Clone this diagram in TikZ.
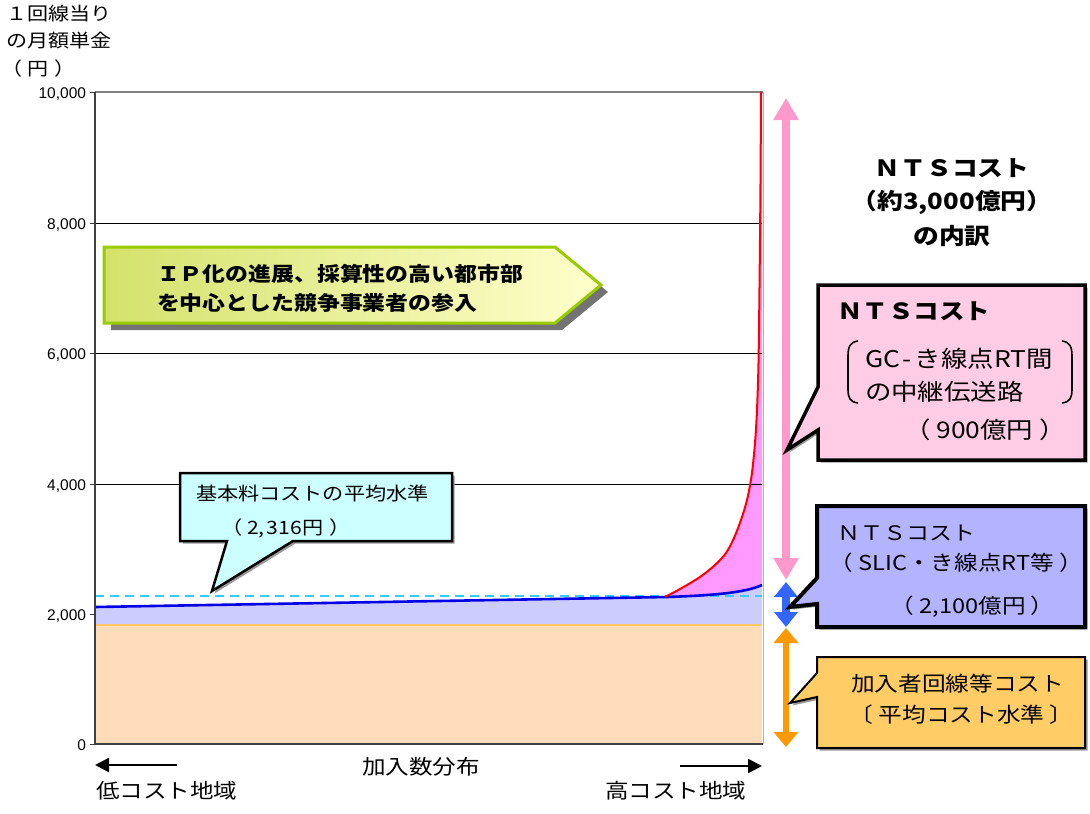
\documentclass[tikz,border=0pt]{standalone}
\usepackage{fontspec}
\setmainfont{Liberation Sans}
\newfontfamily\jp[FakeStretch=1.15]{Noto Sans CJK JP}
\usetikzlibrary{arrows.meta}
\definecolor{peach}{RGB}{255,221,187}
\definecolor{lav}{RGB}{204,204,255}
\definecolor{pinkfill}{RGB}{255,153,255}
\definecolor{redline}{RGB}{255,0,0}
\definecolor{blueline}{RGB}{0,0,230}
\definecolor{cyanline}{RGB}{51,204,255}
\definecolor{orangeline}{RGB}{255,200,100}
\definecolor{pinkarrow}{RGB}{255,153,204}
\definecolor{bluearrow}{RGB}{51,102,255}
\definecolor{orangearrow}{RGB}{255,153,0}
\definecolor{pinkbox}{RGB}{255,204,230}
\definecolor{bluebox}{RGB}{179,179,255}
\definecolor{orangebox}{RGB}{255,204,102}
\definecolor{cyanbox}{RGB}{204,255,255}
\definecolor{ygleft}{RGB}{212,226,108}
\definecolor{ygright}{RGB}{255,255,204}
\definecolor{ygborder}{RGB}{153,204,0}
\definecolor{axisgray}{RGB}{64,64,64}
\newcommand\fs[1]{\fontsize{#1}{#1}\selectfont}
% full-width brackets with the ink centred in their cell
\newcommand\lpar{\kern-0.25em（\kern0.25em}
\newcommand\rpar{\kern0.25em）\kern-0.25em}
\newcommand\lbrk{\kern-0.25em〔\kern0.25em}
\newcommand\rbrk{\kern0.25em〕\kern-0.25em}
\begin{document}
\begin{tikzpicture}[x=1pt,y=-1pt,
  txt/.style={inner sep=0pt, outer sep=0pt},
  tick/.style={txt, anchor=base east, font=\fs{15.5}},
  jtxt/.style={txt, anchor=west, font=\jp\fs{#1}},
  jbold/.style={txt, font=\jp\fs{#1}\bfseries},
  gridline/.style={black, line width=0.9pt},
  shadowfill/.style={fill=black!40},
  hxarrow/.style={line width=2.5pt, -{Triangle[width=14pt,length=14pt]}}
]
\useasboundingbox (0,0) rectangle (1090,814);
\fill[white] (0,0) rectangle (1090,814);

% ---------- plot fills ----------
\fill[peach] (95,625) rectangle (762,744);
\fill[lav] (95,625) -- (95,607) -- (667,597) .. controls (710,595.5) and (745,593) .. (762,585) -- (762,625) -- cycle;
\fill[pinkfill] plot[smooth] coordinates {(665,597) (680,589) (700,577) (715,565) (726,553) (734,538) (741,520) (747,500) (751.7,475) (755,443) (757,410) (758.5,363) (759.5,287) (760.5,183) (761,92)} -- (762,92) -- (762,585) .. controls (745,593) and (710,595.5) .. (667,597) -- cycle;

% ---------- grid and frame ----------
\foreach \yy in {223,353,484} \draw[gridline] (95,\yy) -- (762,\yy);
\draw[gray, line width=1.5pt] (95,92) -- (763,92);
\draw[black!30, line width=1pt] (763,92) -- (763,744);
\draw[cyanline, line width=2pt, dash pattern=on 9pt off 6pt] (95,596) -- (762,596);
\draw[orangeline, line width=2pt] (95,625) -- (762,625);
\draw[blueline, line width=2.6pt] (95,607) -- (667,597) .. controls (710,595.5) and (745,593) .. (762,585);
\draw[redline, line width=2pt] plot[smooth] coordinates {(665,597) (680,589) (700,577) (715,565) (726,553) (734,538) (741,520) (747,500) (751.7,475) (755,443) (757,410) (758.5,363) (759.5,287) (760.5,183) (761,92)};
\draw[axisgray, line width=2pt] (95,92) -- (95,744) -- (763,744);
\foreach \yy in {92,223,353,484,614,744} \draw[axisgray, line width=1pt] (90,\yy) -- (95,\yy);

% ---------- tick labels ----------
\node[tick] (t10000) at (86,98) {10,000};
\node[tick] (t8000) at (86,229) {8,000};
\node[tick] (t6000) at (86,359) {6,000};
\node[tick] (t4000) at (86,490) {4,000};
\node[tick] (t2000) at (86,620) {2,000};
\node[tick] (t0) at (86,750) {0};

% ---------- y title ----------
\node[jtxt=18.3] (ya) at (6,14) {１回線当り};
\node[jtxt=18.3] (yb) at (6,41) {の月額単金};
\node[jtxt=18.3] (yc) at (6,69) {\lpar 円\kern2pt\rpar};

% ---------- x axis labels ----------
\coordinate (la1) at (177,765); \coordinate (la2) at (95,765);
\draw[hxarrow] (la1) -- (la2);
\coordinate (ra1) at (680,766); \coordinate (ra2) at (762,766);
\draw[hxarrow] (ra1) -- (ra2);
\node[jtxt=20.5] (lowc) at (96,791) {低コスト地域};
\node[jtxt=20.5] (highc) at (605,791) {高コスト地域};
\node[txt, font=\jp\fs{20.5}] (dist) at (421,767) {加入数分布};

% ---------- yellow arrow box ----------
\fill[gray!90!black, shift={(7,7)}] (104,247) -- (555,247) -- (601,285) -- (555,323) -- (104,323) -- cycle;
\shade[left color=ygleft, right color=ygright] (104,247) -- (555,247) -- (601,285) -- (555,323) -- (104,323) -- cycle;
\draw[ygborder, line width=3pt, line join=miter] (104,247) -- (555,247) -- (601,285) -- (555,323) -- (104,323) -- cycle;
\node[jbold=19.9, anchor=west] (ip1) at (157,274) {ＩＰ化の進展、採算性の高い都市部};
\node[jbold=19.9, anchor=west] (ip2) at (157,303) {を中心とした競争事業者の参入};

% ---------- cyan callout ----------
\fill[shadowfill, shift={(2.5,2.5)}] (180,473) -- (452,473) -- (452,541) -- (293,541) -- (212,591) -- (227,541) -- (180,541) -- cycle;
\draw[fill=cyanbox, line width=2.5pt, line join=miter] (180,473) -- (452,473) -- (452,541) -- (293,541) -- (212,591) -- (227,541) -- (180,541) -- cycle;
\node[jtxt=18.4] (c1) at (196,493) {基本料コストの平均水準};
\node[jtxt=18.4] (c2) at (226,528) {\lpar 2,\kern2pt 316円\kern2pt\rpar};

% ---------- right title ----------
\node[jbold=22.4] (h1) at (952,168) {ＮＴＳコスト};
\node[jbold=22.4] (h2) at (952,202) {（約3,000億円）};
\node[jbold=22.4] (h3) at (952,236) {の内訳};

% ---------- vertical arrows ----------
\coordinate (pa1) at (786,98); \coordinate (pa2) at (786,580);
\draw[pinkarrow, line width=8pt, {Triangle[width=24pt,length=22pt]}-{Triangle[width=24pt,length=22pt]}] (pa1) -- (pa2);
\coordinate (ba1) at (786,582); \coordinate (ba2) at (786,627);
\draw[bluearrow, line width=7.5pt, {Triangle[width=23pt,length=15pt]}-{Triangle[width=23pt,length=15pt]}] (ba1) -- (ba2);
\coordinate (oa1) at (786,628); \coordinate (oa2) at (786,747);
\draw[orangearrow, line width=6.5pt, {Triangle[width=24pt,length=15pt]}-{Triangle[width=24pt,length=15pt]}] (oa1) -- (oa2);

% ---------- pink callout ----------
\fill[shadowfill, shift={(2.5,2.5)}] (818,285) -- (1085,285) -- (1085,460) -- (818,460) -- (818,430) -- (787,450) -- (818,387) -- cycle;
\draw[fill=pinkbox, line width=3.5pt, line join=miter] (818,285) -- (1085,285) -- (1085,460) -- (818,460) -- (818,430) -- (787,450) -- (818,387) -- cycle;
\node[jbold=22.2, anchor=west] (p1) at (837,311) {ＮＴＳコスト};
\draw[line width=1.6pt] (858,341) .. controls (850,342) and (848,347) .. (848,356) -- (848,389) .. controls (848,398) and (850,402) .. (858,403);
\draw[line width=1.6pt] (1062,341) .. controls (1070,342) and (1072,347) .. (1072,356) -- (1072,389) .. controls (1072,398) and (1070,402) .. (1062,403);
\node[jtxt=23] (p2) at (865,359) {GC\kern2.5pt-\kern3pt き線点RT間};
\node[jtxt=23] (p3) at (865,392) {の中継伝送路};
\node[jtxt=23] (p4) at (910,430) {\lpar 900億円\rpar};

% ---------- blue callout ----------
\fill[shadowfill, shift={(2.5,2.5)}] (817,506) -- (1085,506) -- (1085,627) -- (817,627) -- (817,604) -- (790,607) -- (817,578) -- cycle;
\draw[fill=bluebox, line width=4pt, line join=miter] (817,506) -- (1085,506) -- (1085,627) -- (817,627) -- (817,604) -- (790,607) -- (817,578) -- cycle;
\node[jtxt=20] (b1) at (837,533) {ＮＴＳコスト};
\node[jtxt=20.5] (b2) at (835,563) {\lpar SLIC・き線点RT等\rpar};
\node[jtxt=20.5] (b3) at (896,607) {\lpar 2,100億円\rpar};

% ---------- orange callout ----------
\fill[shadowfill, shift={(2.5,2.5)}] (817,657) -- (1085,657) -- (1085,748) -- (817,748) -- (817,697) -- (790,703) -- (817,673) -- cycle;
\draw[fill=orangebox, line width=2pt, line join=miter] (817,657) -- (1085,657) -- (1085,748) -- (817,748) -- (817,697) -- (790,703) -- (817,673) -- cycle;
\node[jtxt=20.6] (o1) at (851,684) {加入者回線等コスト};
\node[jtxt=20.6] (o2) at (855,715) {\lbrk 平均コスト水準\rbrk};
\end{tikzpicture}
\end{document}
